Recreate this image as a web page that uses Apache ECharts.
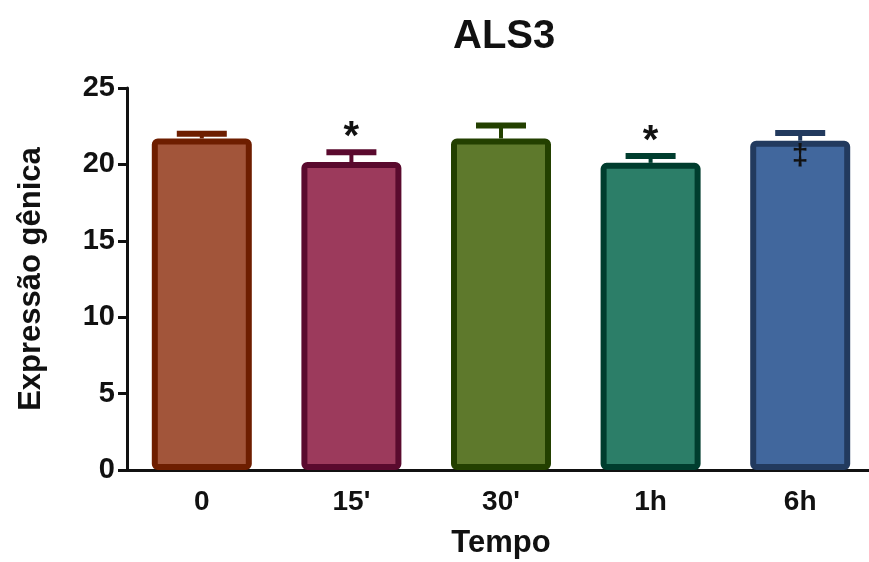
<!DOCTYPE html>
<html>
<head>
<meta charset="utf-8">
<script src="https://cdn.jsdelivr.net/npm/echarts@6/dist/echarts.min.js"></script>
<style>
  html, body { margin: 0; padding: 0; background: #fff; }
  #chart { width: 869px; height: 562px; }
</style>
</head>
<body>
<div id="chart"></div>
<script>
const categories = ['0', "15'", "30'", '1h', '6h'];
const means = [21.7, 20.15, 21.7, 20.1, 21.55];
const errors = [0.3, 0.65, 0.85, 0.45, 0.5];
const marks = ['', '*', '', '*', '‡'];
const fillColors = ['#A2553A', '#9C3A5C', '#5E792C', '#2C7E68', '#41679D'];
const edgeColors = ['#6E1E00', '#5A0A2E', '#234000', '#003D2E', '#223A5E'];

const font = 'Liberation Sans, Arial, sans-serif';

const chart = echarts.init(document.getElementById('chart'));

const option = {
  animation: false,
  title: {
    text: 'ALS3',
    left: 448,
    top: 12,
    textStyle: { fontFamily: font, fontSize: 40, fontWeight: 'bold', color: '#111' },
  },
  grid: { left: 127, right: -6, top: 88, bottom: 92, outerBoundsMode: 'none' },
  xAxis: {
    type: 'category',
    data: categories,
    name: 'Tempo',
    nameLocation: 'middle',
    nameGap: 58,
    nameTextStyle: { fontFamily: font, fontSize: 31, fontWeight: 'bold', color: '#111' },
    axisLine: { lineStyle: { color: '#111', width: 3 } },
    axisTick: { alignWithLabel: true, length: 9, lineStyle: { color: '#111', width: 3 } },
    axisLabel: { margin: 18, fontFamily: font, fontSize: 28, fontWeight: 'bold', color: '#111' },
  },
  yAxis: {
    type: 'value',
    min: 0,
    max: 25,
    interval: 5,
    name: 'Expressão gênica',
    nameLocation: 'middle',
    nameRotate: 90,
    nameGap: 80,
    nameTextStyle: { fontFamily: font, fontSize: 31, fontWeight: 'bold', color: '#111' },
    splitLine: { show: false },
    axisLine: { show: true, lineStyle: { color: '#111', width: 3 } },
    axisTick: { show: true, length: 9, lineStyle: { color: '#111', width: 3 } },
    axisLabel: { margin: 12, fontFamily: font, fontSize: 29, fontWeight: 'bold', color: '#111' },
  },
  series: [
    {
      type: 'bar',
      barWidth: 100,
      data: means.map((v, i) => ({
        value: v,
        itemStyle: {
          color: fillColors[i],
          borderColor: edgeColors[i],
          borderWidth: 6,
          borderRadius: 3,
        },
      })),
      z: 2,
    },
    {
      type: 'custom',
      z: 3,
      data: means.map((v, i) => [i, v, errors[i]]),
      renderItem: (params, api) => {
        const i = api.value(0);
        const top = api.coord([i, api.value(1) + api.value(2)]);
        const base = api.coord([i, api.value(1)]);
        const color = edgeColors[i];
        const children = [
          {
            type: 'line',
            shape: { x1: base[0], y1: base[1], x2: top[0], y2: top[1] },
            style: { stroke: color, lineWidth: 4 },
          },
          {
            type: 'line',
            shape: { x1: top[0] - 25, y1: top[1], x2: top[0] + 25, y2: top[1] },
            style: { stroke: color, lineWidth: 6 },
          },
        ];
        const m = marks[i];
        if (m === '*') {
          children.push({
            type: 'text',
            style: {
              text: m, x: top[0], y: top[1] + 6,
              align: 'center', verticalAlign: 'bottom',
              fontFamily: font, fontSize: 40, fontWeight: 'bold', fill: '#111',
            },
          });
        } else if (m) {
          children.push({
            type: 'text',
            style: {
              text: m, x: base[0], y: base[1] + 1,
              align: 'center', verticalAlign: 'top',
              fontFamily: font, fontSize: 30, fontWeight: 'bold', fill: '#111',
            },
          });
        }
        return { type: 'group', children };
      },
    },
  ],
};

chart.setOption(option);
</script>
</body>
</html>
